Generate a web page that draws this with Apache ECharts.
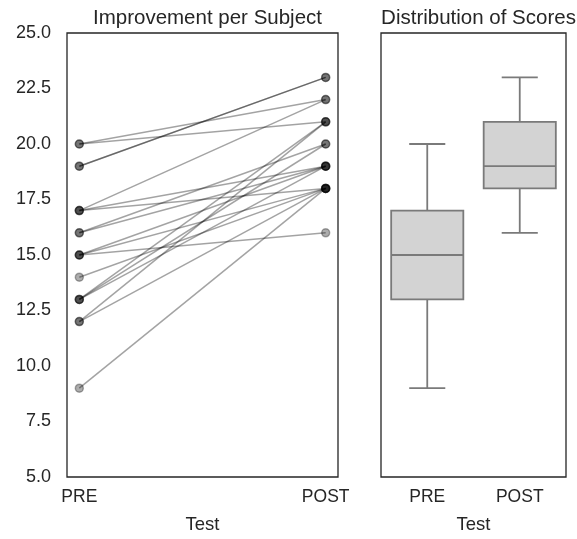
<!DOCTYPE html>
<html>
<head>
<meta charset="utf-8">
<script src="https://cdn.jsdelivr.net/npm/echarts@6/dist/echarts.min.js"></script>
<style>
html,body{margin:0;padding:0;background:#fff;}
#chart{width:577px;height:539px;}
</style>
</head>
<body>
<div id="chart"></div>
<script>
// ---- data ----
const categories = ['PRE', 'POST'];
const preScores  = [20, 20, 19, 19, 17, 17, 17, 16, 16, 15, 15, 15, 14, 13, 13, 13, 12, 12, 9];
const postScores = [22, 21, 23, 23, 22, 19, 18, 19, 20, 16, 19, 18, 18, 21, 20, 19, 21, 18, 18];
const yMin = 5, yMax = 25, yStep = 2.5;
const titles = ['Improvement per Subject', 'Distribution of Scores'];
const xName = 'Test';

// ---- box statistics (from the data) ----
function quantile(sorted, p) {
  const idx = (sorted.length - 1) * p;
  const lo = Math.floor(idx), hi = Math.ceil(idx);
  return sorted[lo] + (sorted[hi] - sorted[lo]) * (idx - lo);
}
function boxStats(arr) {
  const s = arr.slice().sort((a, b) => a - b);
  const q1 = quantile(s, 0.25), med = quantile(s, 0.5), q3 = quantile(s, 0.75);
  const iqr = q3 - q1;
  const lowFence = q1 - 1.5 * iqr, highFence = q3 + 1.5 * iqr;
  const lo = Math.min(...s.filter(v => v >= lowFence));
  const hi = Math.max(...s.filter(v => v <= highFence));
  return [lo, q1, med, q3, hi];
}
const boxData = [preScores, postScores].map((arr, i) => [i].concat(boxStats(arr)));

const textColor = '#262626';
const fontFamily = '"Liberation Sans", Arial, sans-serif';

const lineSeries = preScores.map((p, i) => ({
  type: 'line',
  xAxisIndex: 0, yAxisIndex: 0,
  data: [[0, p], [1, postScores[i]]],
  symbol: 'circle',
  symbolSize: 8,
  lineStyle: { color: 'rgba(0,0,0,0.36)', width: 1.5 },
  itemStyle: { color: 'rgba(0,0,0,0.32)', borderColor: 'rgba(0,0,0,0.3)', borderWidth: 1.5 },
  emphasis: { disabled: true },
  silent: true,
  z: 2
}));

const boxSeries = {
  type: 'custom',
  xAxisIndex: 1, yAxisIndex: 1,
  data: boxData,
  encode: { x: 0, y: [1, 2, 3, 4, 5] },
  silent: true,
  renderItem: function (params, api) {
    const idx = api.value(0);
    const cx = api.coord([idx, api.value(3)])[0];
    const band = api.size([1, 0])[0];
    const bw = band * 0.78, cw = bw / 2;
    const y = k => api.coord([idx, api.value(k)])[1];
    const yLo = y(1), yQ1 = y(2), yMed = y(3), yQ3 = y(4), yHi = y(5);
    const st = { stroke: '#7a7a7a', lineWidth: 1.8, fill: null };
    return {
      type: 'group',
      children: [
        { type: 'line', shape: { x1: cx, y1: yQ1, x2: cx, y2: yLo }, style: st },
        { type: 'line', shape: { x1: cx, y1: yQ3, x2: cx, y2: yHi }, style: st },
        { type: 'line', shape: { x1: cx - cw / 2, y1: yLo, x2: cx + cw / 2, y2: yLo }, style: st },
        { type: 'line', shape: { x1: cx - cw / 2, y1: yHi, x2: cx + cw / 2, y2: yHi }, style: st },
        { type: 'rect', shape: { x: cx - bw / 2, y: yQ3, width: bw, height: yQ1 - yQ3 },
          style: { fill: '#d3d3d3', stroke: '#7a7a7a', lineWidth: 1.8 } },
        { type: 'line', shape: { x1: cx - bw / 2, y1: yMed, x2: cx + bw / 2, y2: yMed }, style: st }
      ]
    };
  }
};

const chart = echarts.init(document.getElementById('chart'), null, { renderer: 'canvas' });
chart.setOption({
  animation: false,
  backgroundColor: '#fff',
  textStyle: { fontFamily: fontFamily, color: textColor },
  title: [
    { text: titles[0], left: 202.5, top: 3, textAlign: 'center',
      textStyle: { fontSize: 20.5, fontWeight: 'normal', color: textColor, fontFamily: fontFamily } },
    { text: titles[1], left: 473.5, top: 3, textAlign: 'center',
      textStyle: { fontSize: 20.5, fontWeight: 'normal', color: textColor, fontFamily: fontFamily } }
  ],
  grid: [
    { left: 67, top: 33, width: 271, height: 445, show: true, borderColor: '#262626', borderWidth: 1.3, backgroundColor: '#fff' },
    { left: 381, top: 33, width: 185, height: 445, show: true, borderColor: '#262626', borderWidth: 1.3, backgroundColor: '#fff' }
  ],
  xAxis: [
    { gridIndex: 0, type: 'value', min: -0.05, max: 1.05,
      name: xName, nameLocation: 'middle', nameGap: 38,
      nameTextStyle: { fontSize: 18.5, color: textColor, fontFamily: fontFamily },
      axisLine: { show: false }, axisTick: { show: false }, splitLine: { show: false },
      axisLabel: { customValues: [0, 1], formatter: v => categories[Math.round(v)],
        fontSize: 17.5, color: textColor, margin: 11, fontFamily: fontFamily } },
    { gridIndex: 1, type: 'category', data: categories, boundaryGap: true,
      name: xName, nameLocation: 'middle', nameGap: 38,
      nameTextStyle: { fontSize: 18.5, color: textColor, fontFamily: fontFamily },
      axisLine: { show: false }, axisTick: { show: false }, splitLine: { show: false },
      axisLabel: { fontSize: 17.5, color: textColor, margin: 11, fontFamily: fontFamily } }
  ],
  yAxis: [
    { gridIndex: 0, type: 'value', min: yMin, max: yMax, interval: yStep,
      axisLine: { show: false }, axisTick: { show: false }, splitLine: { show: false },
      axisLabel: { formatter: v => v.toFixed(1), fontSize: 18, color: textColor, margin: 16, fontFamily: fontFamily } },
    { gridIndex: 1, type: 'value', min: yMin, max: yMax, interval: yStep,
      axisLine: { show: false }, axisTick: { show: false }, splitLine: { show: false },
      axisLabel: { show: false } }
  ],
  series: lineSeries.concat([boxSeries])
});
</script>
</body>
</html>
